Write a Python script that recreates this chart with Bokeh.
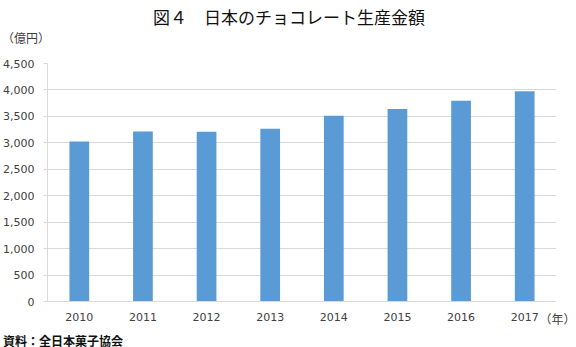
from bokeh.plotting import figure
from bokeh.models import Label, FixedTicker, Range1d, NumeralTickFormatter
from bokeh.embed import file_html
from bokeh.resources import INLINE

years = ["2010", "2011", "2012", "2013", "2014", "2015", "2016", "2017"]
values = [3026, 3215, 3210, 3264, 3513, 3638, 3796, 3975]
y_ticks = [0, 500, 1000, 1500, 2000, 2500, 3000, 3500, 4000, 4500]

title_text = "図４　日本のチョコレート生産金額"
unit_text = "（億円）"
xunit_text = "（年）"
source_text = "資料：全日本菓子協会"

W, H = 576, 347
X0, X1 = 46, 556          # frame left/right (canvas px)
YT, YB = 63, 301          # frame top/bottom (canvas px)
YMAX = 4500
N = len(years)

p = figure(width=W, height=H, output_backend="svg", toolbar_location=None,
           title=None,
           x_range=Range1d(0, N), y_range=Range1d(0, YMAX),
           min_border_left=X0, min_border_right=W - X1,
           min_border_top=YT, min_border_bottom=H - YB)
p.outline_line_color = None
p.background_fill_color = "white"
p.border_fill_color = "white"

xs = [i + 0.5 for i in range(N)]
p.vbar(x=xs, top=values, width=0.31, bottom=0, color="#5B9BD5", line_color=None)

grid_c = "#D9D9D9"
txt_c = "#404040"
num_font = "DejaVu Sans"
cjk = "Noto Sans CJK JP"

# x axis
p.xaxis.ticker = FixedTicker(ticks=xs)
p.xaxis.major_label_overrides = {x: y for x, y in zip(xs, years)}
p.xaxis.major_tick_out = 0
p.xaxis.major_tick_in = 0
p.xaxis.minor_tick_out = 0
p.xaxis.minor_tick_in = 0
p.xaxis.axis_line_color = grid_c
p.xaxis.major_label_standoff = 11
p.xaxis.major_label_text_font = num_font
p.xaxis.major_label_text_font_size = "11px"
p.xaxis.major_label_text_color = txt_c
p.xgrid.grid_line_color = None

# y axis
p.yaxis.ticker = FixedTicker(ticks=y_ticks)
p.yaxis.formatter = NumeralTickFormatter(format="0,0")
p.yaxis.major_tick_out = 4
p.yaxis.major_tick_in = 0
p.yaxis.minor_tick_out = 0
p.yaxis.minor_tick_in = 0
p.yaxis.major_tick_line_color = grid_c
p.yaxis.axis_line_color = grid_c
p.yaxis.major_label_standoff = 9
p.yaxis.major_label_text_font = num_font
p.yaxis.major_label_text_font_size = "11px"
p.yaxis.major_label_text_color = txt_c
p.ygrid.grid_line_color = grid_c
p.ygrid.grid_line_width = 1


def dx(px):
    return (px - X0) / (X1 - X0) * N


def dy(py):
    return (YB - py) / (YB - YT) * YMAX


# texts live in side panels (so they are not clipped to the frame),
# positioned through the frame's scales
p.add_layout(Label(x=dx(288), y=dy(16), text=title_text, text_align="center",
                   text_baseline="middle", text_font=cjk, text_font_size="17px",
                   text_color="#111111"), "above")
p.add_layout(Label(x=dx(0.5), y=dy(37), text=unit_text, text_align="left",
                   text_baseline="middle", text_font=cjk, text_font_size="12px",
                   text_color=txt_c), "above")
p.add_layout(Label(x=dx(575), y=dy(318), text=xunit_text, text_align="right",
                   text_baseline="middle", text_font=cjk, text_font_size="12px",
                   text_color=txt_c), "above")
p.add_layout(Label(x=dx(1.5), y=dy(339.5), text=source_text, text_align="left",
                   text_baseline="middle", text_font=cjk, text_font_size="12px",
                   text_font_style="bold", text_color="#111111"), "below")

open("out.html", "w").write(file_html(p, INLINE))
